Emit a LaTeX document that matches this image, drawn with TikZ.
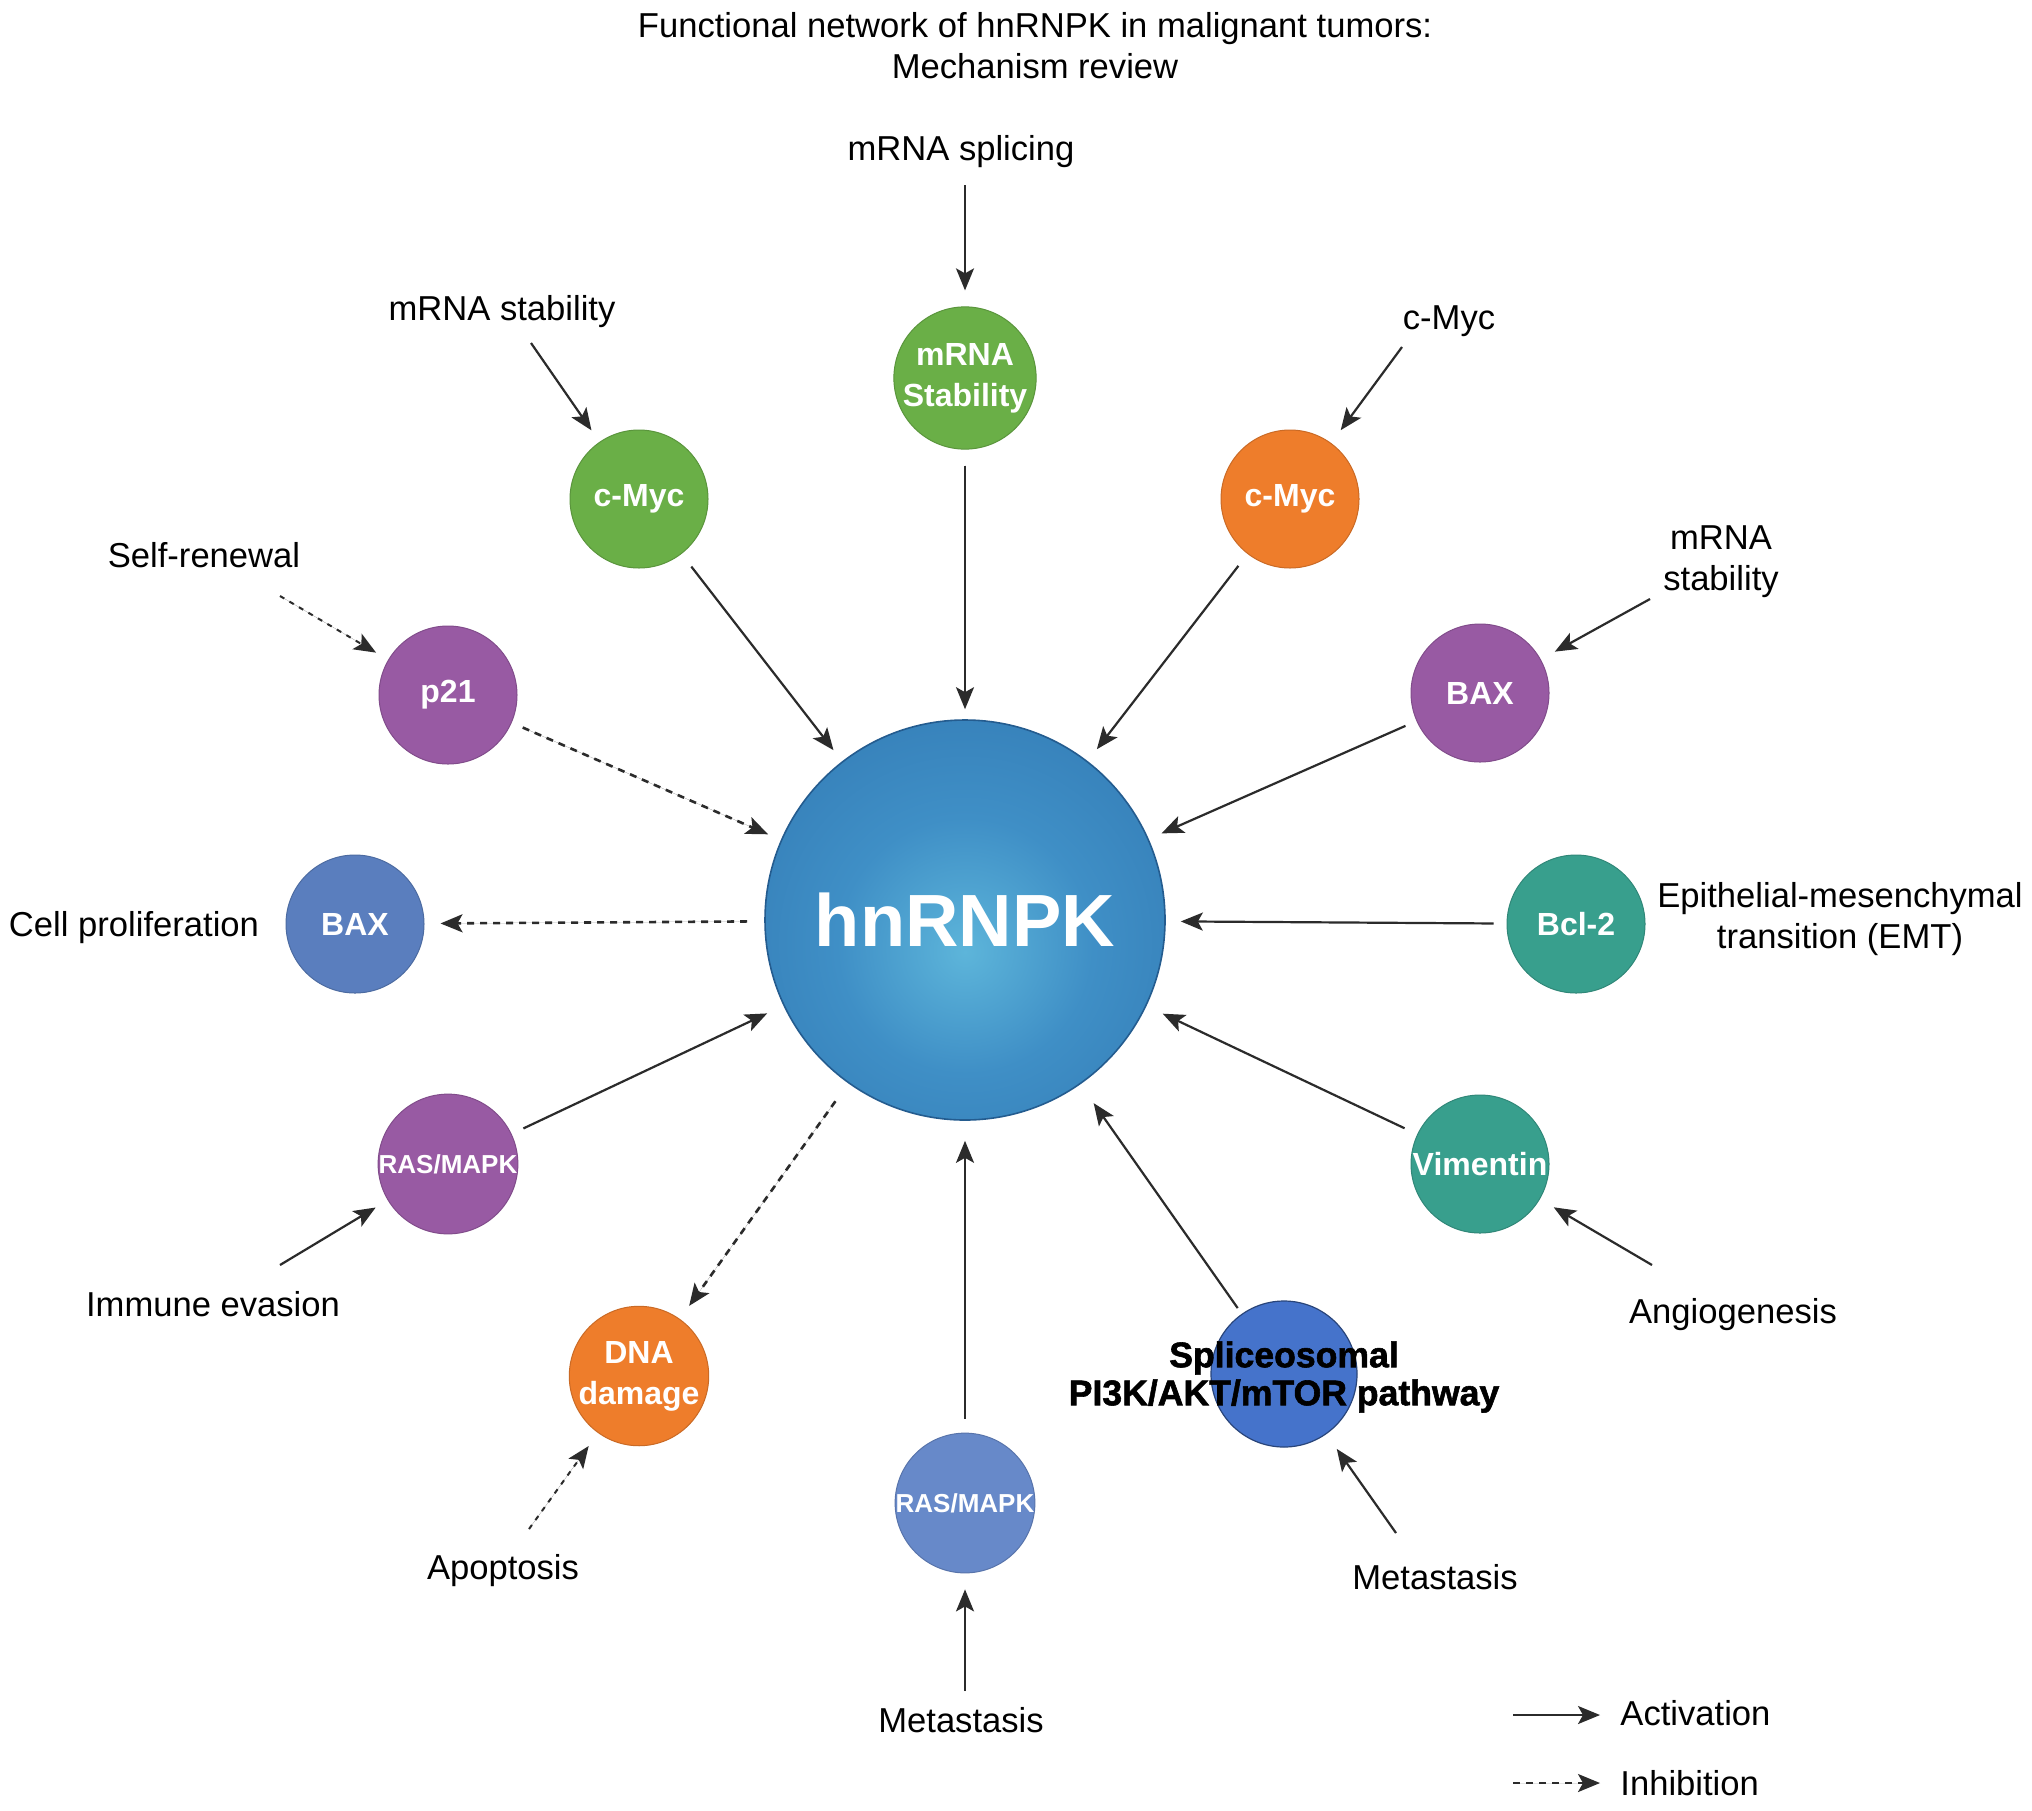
\documentclass[tikz,border=0pt]{standalone}
\usepackage{fontspec}
\setmainfont{Liberation Sans}
\newfontfamily\heavyfont{Liberation Sans Bold}[FakeBold=1.6]
\usetikzlibrary{arrows.meta}
\definecolor{cgreen}{HTML}{6AAF47}
\definecolor{corange}{HTML}{EE7D2B}
\definecolor{cpurple}{HTML}{985AA3}
\definecolor{cbax}{HTML}{5A7EBE}
\definecolor{cteal}{HTML}{389F8D}
\definecolor{crasb}{HTML}{6789C9}
\definecolor{csplic}{HTML}{4573CB}
\definecolor{hubC}{HTML}{5DB5DA}
\definecolor{hubM}{HTML}{3F8FC6}
\definecolor{hubE}{HTML}{2A6CA8}
\definecolor{arrowc}{HTML}{2B2B2B}
\pgfdeclareradialshading{hubshade}{\pgfpoint{0bp}{-4bp}}{color(0bp)=(hubC); color(16bp)=(hubM); color(50bp)=(hubE); color(80bp)=(hubE)}
\begin{document}
\begin{tikzpicture}[x=0.5pt,y=-0.5pt,
  circ/.style={circle, inner sep=0pt, minimum size=69pt, text=white, align=center,
    font=\bfseries\fontsize{16}{20.5}\selectfont, line width=0.5pt},
  small/.style={font=\bfseries\fontsize{13}{15}\selectfont},
  lbl/.style={font=\fontsize{17.3}{20.5}\selectfont, align=center, text=black, inner sep=0pt},
  act/.style={-{Stealth[length=11pt,width=9pt,inset=2.5pt]}, line width=1.1pt, draw=arrowc, fill=arrowc},
  inh/.style={act, line width=1.3pt, dash pattern=on 3.5pt off 3pt},
  inhthin/.style={act, line width=1pt, dash pattern=on 2.5pt off 3pt}]
\useasboundingbox (0,0) rectangle (2032,1810);
\fill[white] (0,0) rectangle (2032,1810);

% title
\node[lbl] (title) at (1035,46) {Functional network of hnRNPK in malignant tumors:\\Mechanism review};

% hub
\node[circle, inner sep=0pt, minimum size=200pt, shading=hubshade, draw=hubE!85!black, line width=0.8pt,
  text=white, font=\bfseries\fontsize{37}{40}\selectfont] (hub) at (965,920) {hnRNPK};

% satellite circles
\node[circ, fill=cgreen, draw=cgreen!85!black] (mstab) at (965,378) {mRNA\\Stability};
\node[circ, fill=cgreen, draw=cgreen!85!black] (cmycG) at (639,499) {c-Myc};
\node[circ, fill=corange, draw=corange!85!black] (cmycO) at (1290,499) {c-Myc};
\node[circ, fill=cpurple, draw=cpurple!85!black] (p21) at (448,695) {p21};
\node[circ, fill=cpurple, draw=cpurple!85!black] (baxR) at (1480,693) {BAX};
\node[circ, fill=cbax, draw=cbax!85!black] (baxL) at (355,924) {BAX};
\node[circ, fill=cteal, draw=cteal!85!black] (bcl) at (1576,924) {Bcl-2};
\node[circ, fill=cpurple, draw=cpurple!85!black, small] (rasL) at (448,1164) {RAS/MAPK};
\node[circ, fill=cteal, draw=cteal!85!black] (vim) at (1480,1164) {Vimentin};
\node[circ, fill=corange, draw=corange!85!black] (dna) at (639,1376) {DNA\\damage};
\node[circ, fill=crasb, draw=crasb!85!black, small] (rasB) at (965,1503) {RAS/MAPK};
\node[circle, inner sep=0pt, minimum size=73pt, fill=csplic, draw=csplic!60!black, line width=0.6pt] (splic) at (1284,1374) {};
\node[align=center, inner sep=0pt, font=\heavyfont\fontsize{17.8}{19}\selectfont] (splictxt) at (1284,1377) {Spliceosomal\\PI3K/AKT/mTOR pathway};

% text labels
\node[lbl] (tsplice) at (961,152) {mRNA splicing};
\node[lbl] (tstabL) at (502,312) {mRNA stability};
\node[lbl] (tcmyc) at (1449,321) {c-Myc};
\node[lbl] (tself) at (204,555) {Self-renewal};
\node[lbl] (tstabR) at (1721,562) {mRNA\\stability};
\node[lbl] (tcell) at (134,928) {Cell proliferation};
\node[lbl] (temt) at (1840,919) {Epithelial-mesenchymal\\transition (EMT)};
\node[lbl] (timm) at (213,1304) {Immune evasion};
\node[lbl] (tang) at (1733,1315) {Angiogenesis};
\node[lbl] (tapo) at (503,1571) {Apoptosis};
\node[lbl] (tmetR) at (1435,1577) {Metastasis};
\node[lbl] (tmetB) at (961,1720) {Metastasis};

% tail coordinates
\coordinate (c1) at (965,185);
\coordinate (c2) at (531,343);
\coordinate (c3) at (1402,347);
\coordinate (c4) at (280,596);
\coordinate (c5) at (1650,599);
\coordinate (c6) at (280,1265);
\coordinate (c7) at (1652,1265);
\coordinate (c8) at (529,1529);
\coordinate (c9) at (965,1691);
\coordinate (c10) at (1396,1533);

% label -> circle arrows
\draw[act, shorten >=8pt] (c1) -- (mstab);
\draw[act, shorten >=7pt] (c2) -- (cmycG);
\draw[act, shorten >=8pt] (c3) -- (cmycO);
\draw[inhthin, shorten >=7pt] (c4) -- (p21);
\draw[act, shorten >=8pt] (c5) -- (baxR);
\draw[act, shorten >=7pt] (c6) -- (rasL);
\draw[act, shorten >=8pt] (c7) -- (vim);
\draw[inhthin, shorten >=8pt] (c8) -- (dna);
\draw[act, shorten >=8pt] (c9) -- (rasB);
\draw[act, shorten >=9pt] (c10) -- (splic);

% circle <-> hub arrows
\draw[act, shorten <=8pt, shorten >=7pt] (cmycG) -- (hub);
\draw[act, shorten <=8pt, shorten >=5pt] (mstab) -- (hub);
\draw[act, shorten <=7.5pt, shorten >=7.5pt] (cmycO) -- (hub);
\draw[inh, shorten <=6pt, shorten >=7pt] (p21) -- (hub);
\draw[act, shorten <=6pt, shorten >=7pt] (baxR) -- (hub);
\draw[inh, shorten <=8.5pt, shorten >=8pt] (hub) -- (baxL);
\draw[act, shorten <=6.5pt, shorten >=7.5pt] (bcl) -- (hub);
\draw[act, shorten <=6.5pt, shorten >=9pt] (rasL) -- (hub);
\draw[act, shorten <=7pt, shorten >=9pt] (vim) -- (hub);
\draw[inh, shorten <=11pt, shorten >=8pt] (hub) -- (dna);
\draw[act, shorten <=7pt, shorten >=10pt] (rasB) -- (hub);
\draw[act, shorten <=3.5pt, shorten >=11.5pt] (splic) -- (hub);

% legend
\coordinate (la1) at (1513,1715);
\coordinate (la2) at (1600,1715);
\coordinate (lb1) at (1513,1783);
\coordinate (lb2) at (1600,1783);
\draw[act] (la1) -- (la2);
\draw[inh, line width=1.1pt] (lb1) -- (lb2);
\node[lbl, anchor=west] (tact) at (1620,1713) {Activation};
\node[lbl, anchor=west] (tinh) at (1620,1783) {Inhibition};
\end{tikzpicture}
\end{document}
